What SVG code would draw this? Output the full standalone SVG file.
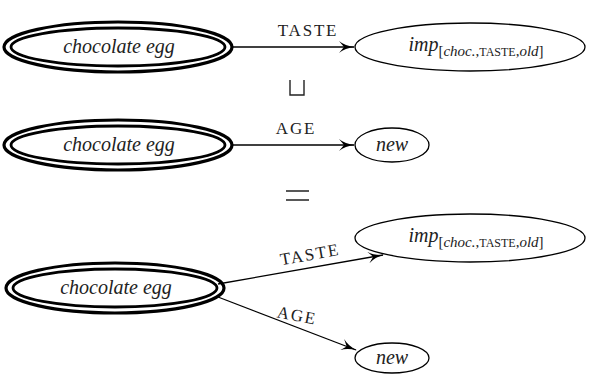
<svg xmlns="http://www.w3.org/2000/svg" width="594" height="374" viewBox="0 0 594 374">
  <style>
    .dbl-o { fill: none; stroke: #000; stroke-width: 3.2; }
    .dbl-i { fill: none; stroke: #000; stroke-width: 2.8; }
    .plain { fill: #fff; stroke: #000; stroke-width: 1.3; }
    .edge { fill: none; stroke: #000; stroke-width: 1.3; marker-end: url(#stealth); }
    .node-t { font-family: "Liberation Serif", "Times New Roman", serif; font-style: italic; font-size: 20px; fill: #222; }
    .lbl { font-family: "Liberation Serif", "Times New Roman", serif; font-size: 17px; letter-spacing: 1.8px; fill: #222; }
    .sub { font-family: "Liberation Serif", "Times New Roman", serif; font-size: 15px; fill: #222; }
    .it { font-style: italic; }
    .sc { font-size: 12px; }
    .op { fill: none; stroke: #222; stroke-width: 1.4; }
  </style>
  <defs>
    <marker id="stealth" viewBox="0 0 16 12" refX="15" refY="6" markerWidth="16" markerHeight="12" markerUnits="userSpaceOnUse" orient="auto">
      <path d="M0,0 Q6,5 16,6 Q6,7 0,12 L5,6 Z" fill="#000"/>
    </marker>
  </defs>

  <!-- connectors -->
  <g id="edges">
    <line class="edge" x1="233" y1="47" x2="354" y2="47"/>
    <line class="edge" x1="233" y1="145" x2="354" y2="145"/>
    <line class="edge" x1="218" y1="284" x2="383" y2="255"/>
    <line class="edge" x1="218" y1="297" x2="356" y2="350"/>
    <text class="lbl" x="308" y="36" text-anchor="middle">TASTE</text>
    <text class="lbl" x="296" y="134" text-anchor="middle">AGE</text>
    <text class="lbl" x="311" y="260" text-anchor="middle" transform="rotate(-10 311 260)">TASTE</text>
    <text class="lbl" x="296" y="321" text-anchor="middle" transform="rotate(11 296 321)">AGE</text>
  </g>

  <!-- row 1 -->
  <g id="egg1">
    <ellipse class="dbl-o" cx="118" cy="47" rx="114" ry="25"/>
    <ellipse class="dbl-i" cx="118" cy="47" rx="107" ry="19"/>
    <text class="node-t" x="119" y="53" text-anchor="middle">chocolate egg</text>
  </g>
  <g id="imp1">
    <ellipse class="plain" cx="470" cy="47" rx="115" ry="24"/>
    <text x="476" y="51" text-anchor="middle"><tspan class="node-t">imp</tspan><tspan class="sub" dy="5">[<tspan class="it">choc.</tspan>,<tspan class="sc">TASTE</tspan>,<tspan class="it">old</tspan>]</tspan></text>
  </g>

  <!-- join operator -->
  <path class="op" d="M290,80 V95 H304 V80"/>

  <!-- row 2 -->
  <g id="egg2">
    <ellipse class="dbl-o" cx="118" cy="145" rx="114" ry="25"/>
    <ellipse class="dbl-i" cx="118" cy="145" rx="107" ry="19"/>
    <text class="node-t" x="119" y="151" text-anchor="middle">chocolate egg</text>
  </g>
  <g id="new1">
    <ellipse class="plain" cx="392" cy="145" rx="37" ry="17"/>
    <text class="node-t" x="392" y="151" text-anchor="middle">new</text>
  </g>

  <!-- equals -->
  <path class="op" d="M286,191 H309 M286,200 H309"/>

  <!-- row 3 -->
  <g id="egg3">
    <ellipse class="dbl-o" cx="115" cy="288" rx="109" ry="25"/>
    <ellipse class="dbl-i" cx="115" cy="288" rx="102" ry="19"/>
    <text class="node-t" x="116" y="294" text-anchor="middle">chocolate egg</text>
  </g>
  <g id="imp2">
    <ellipse class="plain" cx="470" cy="238" rx="115" ry="24"/>
    <text x="476" y="242" text-anchor="middle"><tspan class="node-t">imp</tspan><tspan class="sub" dy="5">[<tspan class="it">choc.</tspan>,<tspan class="sc">TASTE</tspan>,<tspan class="it">old</tspan>]</tspan></text>
  </g>
  <g id="new2">
    <ellipse class="plain" cx="392" cy="358" rx="37" ry="15"/>
    <text class="node-t" x="392" y="364" text-anchor="middle">new</text>
  </g>
</svg>
